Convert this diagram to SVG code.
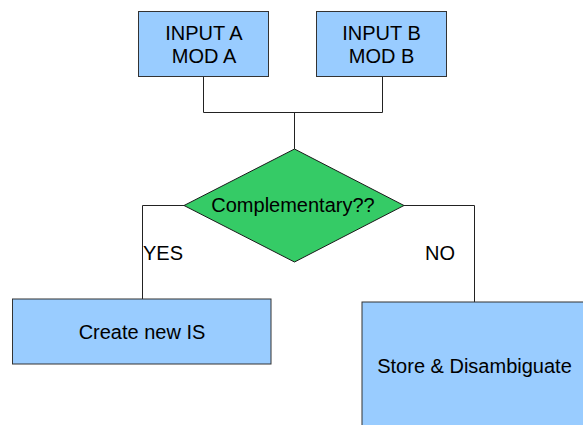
<svg xmlns="http://www.w3.org/2000/svg" width="583" height="425" viewBox="0 0 583 425">
  <style>
    .box { fill: #99ccff; stroke: #333333; stroke-width: 1; }
    .dec { fill: #35cb66; stroke: #1a1a1a; stroke-width: 1; }
    .lbl { font-family: "Liberation Sans", Arial, sans-serif; font-size: 20px; fill: #000000; text-anchor: middle; }
    .edge { fill: none; stroke: #222222; stroke-width: 1; }
  </style>
  <rect width="583" height="425" fill="#ffffff"/>

  <g id="connectors">
    <polyline class="edge" points="203.5,76 203.5,112.5 382.5,112.5 382.5,76"/>
    <line class="edge" x1="294.5" y1="112.5" x2="294.5" y2="149"/>
    <polyline class="edge" points="184,205.5 142.5,205.5 142.5,299"/>
    <polyline class="edge" points="404,205.5 474.5,205.5 474.5,302"/>
  </g>

  <g id="input-a">
    <rect class="box" x="138.5" y="11.5" width="130" height="65"/>
    <text class="lbl" x="204" y="39.5">INPUT A</text>
    <text class="lbl" x="204" y="62.5">MOD A</text>
  </g>

  <g id="input-b">
    <rect class="box" x="316.5" y="11.5" width="130" height="65"/>
    <text class="lbl" x="381.5" y="39.5">INPUT B</text>
    <text class="lbl" x="381.5" y="62.5">MOD B</text>
  </g>

  <g id="complementary">
    <polygon class="dec" points="294.5,149 404,205.5 294.5,262 184,205.5"/>
    <text class="lbl" x="293" y="212">Complementary??</text>
  </g>

  <text class="lbl" x="143" y="259.5" style="text-anchor:start">YES</text>
  <text class="lbl" x="425" y="259.5" style="text-anchor:start">NO</text>

  <g id="create-new-is">
    <rect class="box" x="12.5" y="299" width="258.5" height="65"/>
    <text class="lbl" x="142" y="339">Create new IS</text>
  </g>

  <g id="store-disambiguate">
    <rect class="box" x="362" y="302" width="224" height="128"/>
    <text class="lbl" x="474.5" y="373">Store &amp; Disambiguate</text>
  </g>
</svg>
